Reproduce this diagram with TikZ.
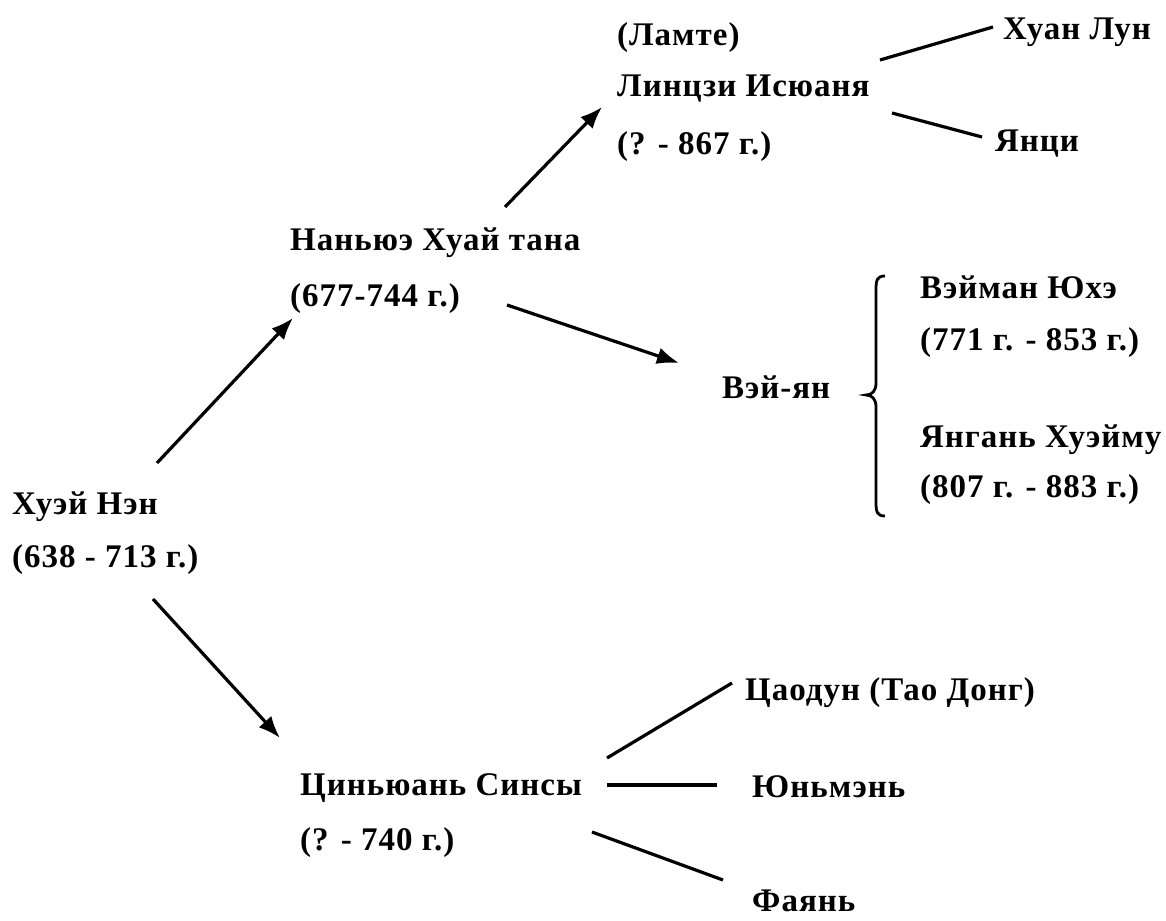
\documentclass[tikz,border=0pt]{standalone}
\usepackage{fontspec}
\setmainfont{Liberation Serif}[LetterSpace=3]
\usetikzlibrary{arrows.meta,calc}
\begin{document}
\begin{tikzpicture}[x=1pt,y=-1pt,
  txt/.style={anchor=base west, inner sep=0pt, font=\bfseries\fontsize{33}{40}\selectfont},
  ln/.style={line width=3.2pt},
  arr/.style={line width=3.2pt, -{Latex[length=22pt,width=17pt]}},
  brc/.style={line width=2.8pt}]
\useasboundingbox[fill=white] (0,0) rectangle (1166,920);
% nodes
\node[txt] (lamte)   at (617,46)  {(Ламте)};
\node[txt] (linji)   at (617,97)  {Линцзи Исюаня};
\node[txt] (linjid)  at (617,155) {(? - 867 г.)};
\node[txt] (huanlun) at (1003,40) {Хуан Лун};
\node[txt] (yanci)   at (995,152) {Янци};
\node[txt] (nanyue)  at (290,250) {Наньюэ Хуай тана};
\node[txt] (nanyued) at (290,306) {(677-744 г.)};
\node[txt] (weiyan)  at (722,398) {Вэй-ян};
\node[txt] (weiman)  at (920,298) {Вэйман Юхэ};
\node[txt] (weimand) at (920,350) {(771 г. - 853 г.)};
\node[txt] (yangan)  at (920,447) {Янгань Хуэйму};
\node[txt] (yangand) at (920,497) {(807 г. - 883 г.)};
\node[txt] (huineng) at (12,514)  {Хуэй Нэн};
\node[txt] (huinengd) at (12,567) {(638 - 713 г.)};
\node[txt] (qingyuan) at (300,795) {Циньюань Синсы};
\node[txt] (qingyuand) at (300,850) {(? - 740 г.)};
\node[txt] (caodong) at (745,700) {Цаодун (Тао Донг)};
\node[txt] (yunmen)  at (752,797) {Юньмэнь};
\node[txt] (fayan)   at (752,911) {Фаянь};
% arrows
\draw[arr] ($(huineng.base west)+(145,-51)$) -- ($(nanyued.base west)+(3,12)$);
\draw[arr] ($(huinengd.base west)+(141,32)$) -- ($(qingyuan.base west)+(-20,-57)$);
\draw[arr] ($(nanyue.base west)+(215,-43)$) -- ($(linjid.base west)+(-15,-48)$);
\draw[arr] ($(nanyued.base west)+(217,-1)$) -- ($(weiyan.base west)+(-43,-35)$);
% plain lines
\draw[ln] ($(linji.base west)+(263,-37)$) -- ($(huanlun.base west)+(-10,-13)$);
\draw[ln] ($(linji.base west)+(275,16)$) -- ($(yanci.base west)+(-13,-15)$);
\draw[ln] ($(qingyuan.base west)+(307,-37)$) -- ($(caodong.base west)+(-13,-17)$);
\draw[ln] ($(qingyuan.base west)+(307,-10)$) -- ($(yunmen.base west)+(-35,-12)$);
\draw[ln] ($(qingyuand.base west)+(292,-18)$) -- ($(fayan.base west)+(-29,-31)$);
% brace
\draw[brc] (885,276) .. controls (877,276) and (876,280) .. (876,290) -- (876,383)
  .. controls (876,391) and (872,395) .. (866,395)
  .. controls (872,395) and (876,399) .. (876,407) -- (876,502)
  .. controls (876,512) and (877,516) .. (885,516);
\end{tikzpicture}
\end{document}
